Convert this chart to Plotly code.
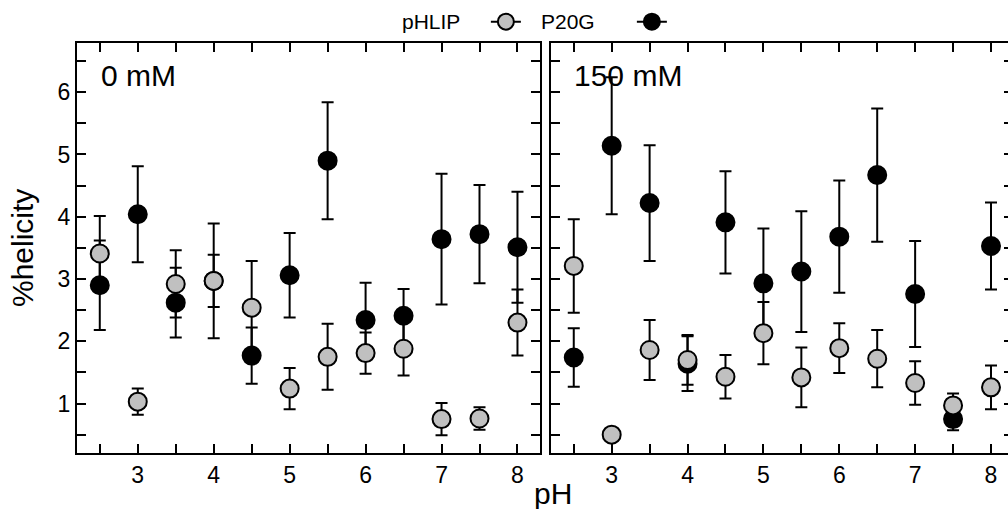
import plotly.graph_objects as go

# ---------------- data ----------------
ph = [2.5, 3, 3.5, 4, 4.5, 5, 5.5, 6, 6.5, 7, 7.5, 8]

# 0 mM
phlip_0 = [3.41, 1.03, 2.92, 2.97, 2.54, 1.24, 1.75, 1.81, 1.88, 0.75, 0.76, 2.30]
phlip_0_err = [0.60, 0.21, 0.54, 0.42, 0.75, 0.33, 0.53, 0.33, 0.43, 0.26, 0.18, 0.53]
p20g_0 = [2.90, 4.04, 2.62, 2.97, 1.77, 3.06, 4.90, 2.34, 2.41, 3.64, 3.72, 3.51]
p20g_0_err = [0.72, 0.77, 0.56, 0.92, 0.45, 0.68, 0.94, 0.60, 0.43, 1.05, 0.79, 0.89]

# 150 mM
phlip_150 = [3.21, 0.50, 1.86, 1.70, 1.43, 2.13, 1.42, 1.89, 1.72, 1.33, 0.97, 1.26]
phlip_150_err = [0.75, 0.00, 0.48, 0.40, 0.35, 0.50, 0.48, 0.40, 0.46, 0.35, 0.19, 0.35]
p20g_150 = [1.74, 5.14, 4.22, 1.64, 3.91, 2.93, 3.12, 3.68, 4.67, 2.76, 0.75, 3.53]
p20g_150_err = [0.47, 1.10, 0.93, 0.44, 0.82, 0.88, 0.97, 0.90, 1.07, 0.85, 0.18, 0.70]

x_tickvals = [2.5, 3, 3.5, 4, 4.5, 5, 5.5, 6, 6.5, 7, 7.5, 8]
x_ticktext = ["", "3", "", "4", "", "5", "", "6", "", "7", "", "8"]
y_tickvals = [0.5, 1, 1.5, 2, 2.5, 3, 3.5, 4, 4.5, 5, 5.5, 6, 6.5]
y_ticktext = ["", "1", "", "2", "", "3", "", "4", "", "5", "", "6", ""]

panel_labels = ["0 mM", "150 mM"]
series_names = ["pHLIP", "P20G"]

# ---------------- style ----------------
FONT = "Liberation Sans, Arial, sans-serif"
GRAY = "#c0c0c0"
W, H = 1016, 509
ML, MR, MT, MB = 77, 3, 43, 56
PW = W - ML - MR
PH = H - MT - MB
NBSP = "\u00a0"

fig = go.Figure()

def add_series(y, err, fill, xa, ya, name):
    fig.add_trace(go.Scatter(
        x=ph, y=y, mode="markers", name=name, showlegend=False,
        xaxis=xa, yaxis=ya,
        marker=dict(size=18, color=fill, line=dict(color="black", width=2)),
        error_y=dict(type="data", array=err, visible=True, color="black",
                     thickness=2, width=6),
    ))

# black first, grey on top
add_series(p20g_0, p20g_0_err, "black", "x", "y", series_names[1])
add_series(phlip_0, phlip_0_err, GRAY, "x", "y", series_names[0])
add_series(p20g_150, p20g_150_err, "black", "x2", "y2", series_names[1])
add_series(phlip_150, phlip_150_err, GRAY, "x2", "y2", series_names[0])

# legend proxies (symbol shown to the right of the legend title)
fig.add_trace(go.Scatter(x=[None], y=[None], mode="lines+markers", name="",
                         legend="legend",
                         marker=dict(size=18, color=GRAY, line=dict(color="black", width=2)),
                         line=dict(color="black", width=2)))
fig.add_trace(go.Scatter(x=[None], y=[None], mode="lines+markers", name="",
                         legend="legend2",
                         marker=dict(size=18, color="black", line=dict(color="black", width=2)),
                         line=dict(color="black", width=2)))

axis_common = dict(
    showline=True, linecolor="black", linewidth=2, mirror="ticks",
    ticks="inside", ticklen=9, tickwidth=1.5, tickcolor="black",
    showgrid=False, zeroline=False,
    tickfont=dict(family=FONT, size=23, color="black"),
)
xr = [2.2, 8.29]
yr = [0.206, 6.79]
d1 = [0, (539.5 - ML) / PW]
d2 = [(551 - ML) / PW, 1]

leg_y = (H - MB - 22) / PH

fig.update_layout(
    width=W, height=H, autosize=False,
    margin=dict(l=ML, r=MR, t=MT, b=MB, pad=0, autoexpand=False),
    paper_bgcolor="white", plot_bgcolor="white",
    font=dict(family=FONT, color="black"),
    xaxis=dict(domain=d1, range=xr, tickmode="array", tickvals=x_tickvals,
               ticktext=x_ticktext, anchor="y", **axis_common),
    yaxis=dict(domain=[0, 1], range=yr, tickmode="array", tickvals=y_tickvals,
               ticktext=y_ticktext, anchor="x", **axis_common),
    xaxis2=dict(domain=d2, range=xr, tickmode="array", tickvals=x_tickvals,
                ticktext=x_ticktext, anchor="y2", **axis_common),
    yaxis2=dict(domain=[0, 1], range=yr, tickmode="array", tickvals=y_tickvals,
                ticktext=y_ticktext, anchor="x2", showticklabels=False, **axis_common),
    legend=dict(orientation="h", x=(400 - ML) / PW, xanchor="left",
                y=leg_y, yanchor="middle",
                title=dict(text=series_names[0] + NBSP * 3, side="left", font=dict(size=21)),
                font=dict(size=21), bgcolor="rgba(0,0,0,0)",
                itemwidth=30, tracegroupgap=0),
    legend2=dict(orientation="h", x=(539 - ML) / PW, xanchor="left",
                 y=leg_y, yanchor="middle",
                 title=dict(text=series_names[1] + NBSP * 5, side="left", font=dict(size=21)),
                 font=dict(size=21), bgcolor="rgba(0,0,0,0)",
                 itemwidth=30, tracegroupgap=0),
    annotations=[
        dict(text="%helicity", textangle=-90, x=(22 - ML) / PW, y=(H - MB - 248) / PH,
             xref="paper", yref="paper", xanchor="center", yanchor="middle",
             showarrow=False, font=dict(size=30)),
        dict(text="pH", x=(553 - ML) / PW, y=(H - MB - 493) / PH,
             xref="paper", yref="paper", xanchor="center", yanchor="middle",
             showarrow=False, font=dict(size=30)),
        dict(text=panel_labels[0], x=(99 - ML) / PW, y=(H - MB - 75.5) / PH,
             xref="paper", yref="paper", xanchor="left", yanchor="middle",
             showarrow=False, font=dict(size=30)),
        dict(text=panel_labels[1], x=(572 - ML) / PW, y=(H - MB - 75.5) / PH,
             xref="paper", yref="paper", xanchor="left", yanchor="middle",
             showarrow=False, font=dict(size=30)),
    ],
)

fig.write_html("out.html",
               post_script="document.body.style.overflow='hidden';"
                           "document.documentElement.style.overflow='hidden';")
